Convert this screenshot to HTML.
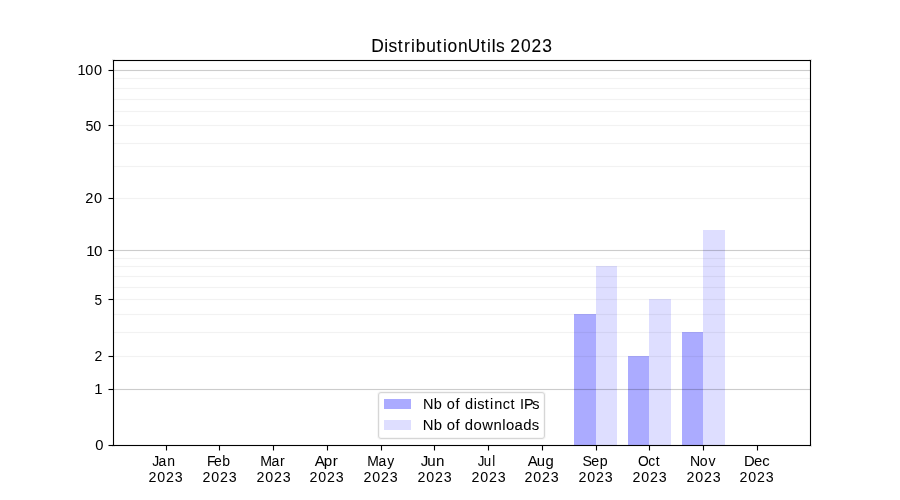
<!DOCTYPE html>
<html><head><meta charset="utf-8"><title>DistributionUtils 2023</title>
<style>
html,body{margin:0;padding:0;background:#fff;}
body{width:900px;height:500px;position:relative;overflow:hidden;font-family:"Liberation Sans",sans-serif;}
#c{position:absolute;left:0;top:0;width:900px;height:500px;}
#c div{position:absolute;}
.gm{left:113px;width:697px;height:1px;background:rgba(0,0,0,0.2);}
.gma{left:113px;width:697px;height:1px;background:rgba(0,0,0,0.012);}
.gn{left:113px;width:697px;height:1px;background:rgba(0,0,0,0.05);box-shadow:0 -1px 0 0 rgba(0,0,0,0.004),0 1px 0 0 rgba(0,0,0,0.004);}
.k{background:#000;}
.ka{background:rgba(0,0,0,0.055);}
.kh{background:rgba(0,0,0,0.488);}
.kq{background:rgba(0,0,0,0.0275);}
svg{position:absolute;left:0;top:0;will-change:transform;}
text{font-family:"Liberation Sans",sans-serif;fill:#000;stroke:#000;stroke-width:0.03px;}
#title{stroke-width:0.1px;}
#leg1,#leg2{stroke-width:0.05px;}
</style></head><body>
<div id="c">
<div class="bar" style="left:574px;top:314px;width:22px;height:131px;background:rgb(171,171,255)"></div>
<div class="bar" style="left:596px;top:266px;width:21px;height:179px;background:rgb(222,222,255)"></div>
<div class="bar" style="left:628px;top:356px;width:21px;height:89px;background:rgb(171,171,255)"></div>
<div class="bar" style="left:649px;top:299px;width:22px;height:146px;background:rgb(222,222,255)"></div>
<div class="bar" style="left:682px;top:332px;width:21px;height:113px;background:rgb(171,171,255)"></div>
<div class="bar" style="left:703px;top:230px;width:22px;height:215px;background:rgb(222,222,255)"></div>
<div class="gn" style="top:356px"></div>
<div class="gn" style="top:332px"></div>
<div class="gn" style="top:314px"></div>
<div class="gn" style="top:299px"></div>
<div class="gn" style="top:287px"></div>
<div class="gn" style="top:276px"></div>
<div class="gn" style="top:266px"></div>
<div class="gn" style="top:258px"></div>
<div class="gn" style="top:198px"></div>
<div class="gn" style="top:166px"></div>
<div class="gn" style="top:143px"></div>
<div class="gn" style="top:125px"></div>
<div class="gn" style="top:111px"></div>
<div class="gn" style="top:99px"></div>
<div class="gn" style="top:88px"></div>
<div class="gn" style="top:78px"></div>
<div class="gma" style="top:388px"></div><div class="gm" style="top:389px"></div><div class="gma" style="top:390px"></div>
<div class="gma" style="top:249px"></div><div class="gm" style="top:250px"></div><div class="gma" style="top:251px"></div>
<div class="gma" style="top:69px"></div><div class="gm" style="top:70px"></div><div class="gma" style="top:71px"></div>
<div class="ka" style="left:112px;top:59px;width:700px;height:3px"></div>
<div class="ka" style="left:112px;top:444px;width:700px;height:3px"></div>
<div class="ka" style="left:112px;top:59px;width:3px;height:388px"></div>
<div class="ka" style="left:809px;top:59px;width:3px;height:388px"></div>
<div class="k" style="left:113px;top:60px;width:698px;height:1px"></div>
<div class="k" style="left:113px;top:445px;width:698px;height:1px"></div>
<div class="k" style="left:113px;top:60px;width:1px;height:386px"></div>
<div class="k" style="left:810px;top:60px;width:1px;height:386px"></div>
<div class="kq" style="left:108px;top:444px;width:1px;height:3px"></div><div class="ka" style="left:109px;top:444px;width:4px;height:3px"></div><div class="kh" style="left:108px;top:445px;width:1px;height:1px"></div><div class="k" style="left:109px;top:445px;width:4px;height:1px"></div>
<div class="kq" style="left:108px;top:388px;width:1px;height:3px"></div><div class="ka" style="left:109px;top:388px;width:4px;height:3px"></div><div class="kh" style="left:108px;top:389px;width:1px;height:1px"></div><div class="k" style="left:109px;top:389px;width:4px;height:1px"></div>
<div class="kq" style="left:108px;top:355px;width:1px;height:3px"></div><div class="ka" style="left:109px;top:355px;width:4px;height:3px"></div><div class="kh" style="left:108px;top:356px;width:1px;height:1px"></div><div class="k" style="left:109px;top:356px;width:4px;height:1px"></div>
<div class="kq" style="left:108px;top:298px;width:1px;height:3px"></div><div class="ka" style="left:109px;top:298px;width:4px;height:3px"></div><div class="kh" style="left:108px;top:299px;width:1px;height:1px"></div><div class="k" style="left:109px;top:299px;width:4px;height:1px"></div>
<div class="kq" style="left:108px;top:249px;width:1px;height:3px"></div><div class="ka" style="left:109px;top:249px;width:4px;height:3px"></div><div class="kh" style="left:108px;top:250px;width:1px;height:1px"></div><div class="k" style="left:109px;top:250px;width:4px;height:1px"></div>
<div class="kq" style="left:108px;top:197px;width:1px;height:3px"></div><div class="ka" style="left:109px;top:197px;width:4px;height:3px"></div><div class="kh" style="left:108px;top:198px;width:1px;height:1px"></div><div class="k" style="left:109px;top:198px;width:4px;height:1px"></div>
<div class="kq" style="left:108px;top:124px;width:1px;height:3px"></div><div class="ka" style="left:109px;top:124px;width:4px;height:3px"></div><div class="kh" style="left:108px;top:125px;width:1px;height:1px"></div><div class="k" style="left:109px;top:125px;width:4px;height:1px"></div>
<div class="kq" style="left:108px;top:69px;width:1px;height:3px"></div><div class="ka" style="left:109px;top:69px;width:4px;height:3px"></div><div class="kh" style="left:108px;top:70px;width:1px;height:1px"></div><div class="k" style="left:109px;top:70px;width:4px;height:1px"></div>
<div class="ka" style="left:165px;top:446px;width:3px;height:4px"></div><div class="kq" style="left:165px;top:450px;width:3px;height:1px"></div><div class="k" style="left:166px;top:446px;width:1px;height:4px"></div><div class="kh" style="left:166px;top:450px;width:1px;height:1px"></div>
<div class="ka" style="left:218px;top:446px;width:3px;height:4px"></div><div class="kq" style="left:218px;top:450px;width:3px;height:1px"></div><div class="k" style="left:219px;top:446px;width:1px;height:4px"></div><div class="kh" style="left:219px;top:450px;width:1px;height:1px"></div>
<div class="ka" style="left:272px;top:446px;width:3px;height:4px"></div><div class="kq" style="left:272px;top:450px;width:3px;height:1px"></div><div class="k" style="left:273px;top:446px;width:1px;height:4px"></div><div class="kh" style="left:273px;top:450px;width:1px;height:1px"></div>
<div class="ka" style="left:326px;top:446px;width:3px;height:4px"></div><div class="kq" style="left:326px;top:450px;width:3px;height:1px"></div><div class="k" style="left:327px;top:446px;width:1px;height:4px"></div><div class="kh" style="left:327px;top:450px;width:1px;height:1px"></div>
<div class="ka" style="left:380px;top:446px;width:3px;height:4px"></div><div class="kq" style="left:380px;top:450px;width:3px;height:1px"></div><div class="k" style="left:381px;top:446px;width:1px;height:4px"></div><div class="kh" style="left:381px;top:450px;width:1px;height:1px"></div>
<div class="ka" style="left:433px;top:446px;width:3px;height:4px"></div><div class="kq" style="left:433px;top:450px;width:3px;height:1px"></div><div class="k" style="left:434px;top:446px;width:1px;height:4px"></div><div class="kh" style="left:434px;top:450px;width:1px;height:1px"></div>
<div class="ka" style="left:487px;top:446px;width:3px;height:4px"></div><div class="kq" style="left:487px;top:450px;width:3px;height:1px"></div><div class="k" style="left:488px;top:446px;width:1px;height:4px"></div><div class="kh" style="left:488px;top:450px;width:1px;height:1px"></div>
<div class="ka" style="left:541px;top:446px;width:3px;height:4px"></div><div class="kq" style="left:541px;top:450px;width:3px;height:1px"></div><div class="k" style="left:542px;top:446px;width:1px;height:4px"></div><div class="kh" style="left:542px;top:450px;width:1px;height:1px"></div>
<div class="ka" style="left:595px;top:446px;width:3px;height:4px"></div><div class="kq" style="left:595px;top:450px;width:3px;height:1px"></div><div class="k" style="left:596px;top:446px;width:1px;height:4px"></div><div class="kh" style="left:596px;top:450px;width:1px;height:1px"></div>
<div class="ka" style="left:648px;top:446px;width:3px;height:4px"></div><div class="kq" style="left:648px;top:450px;width:3px;height:1px"></div><div class="k" style="left:649px;top:446px;width:1px;height:4px"></div><div class="kh" style="left:649px;top:450px;width:1px;height:1px"></div>
<div class="ka" style="left:702px;top:446px;width:3px;height:4px"></div><div class="kq" style="left:702px;top:450px;width:3px;height:1px"></div><div class="k" style="left:703px;top:446px;width:1px;height:4px"></div><div class="kh" style="left:703px;top:450px;width:1px;height:1px"></div>
<div class="ka" style="left:756px;top:446px;width:3px;height:4px"></div><div class="kq" style="left:756px;top:450px;width:3px;height:1px"></div><div class="k" style="left:757px;top:446px;width:1px;height:4px"></div><div class="kh" style="left:757px;top:450px;width:1px;height:1px"></div>
<div style="left:378px;top:392px;width:165px;height:45px;border:1px solid rgb(214,214,214);border-radius:3px;background:#fff;box-shadow:0 0 0 1px rgb(247,247,247),inset 0 0 0 1px rgb(247,247,247)"></div>
<div style="left:384px;top:399px;width:27px;height:10px;background:rgb(171,171,255)"></div>
<div style="left:384px;top:420px;width:27px;height:10px;background:rgb(222,222,255)"></div>
</div>
<svg width="900" height="500" viewBox="0 0 900 500">
<text id="title" transform="scale(0.9699 1)" x="382.74 396.18 400.65 410.04 416.55 423.64 428.57 439.56 450.06 456.87 461.50 472.21 482.39 495.70 502.25 507.00 511.48 520.30 525.99 537.13 548.06 559.10" y="51.7" font-size="17.95">DistributionUtils 2023</text>
<text id="y0" transform="scale(0.996 1)" x="95.68" y="450.3" font-size="14.8">0</text>
<text id="y1" transform="scale(0.9912 1)" x="95.19" y="394.3" font-size="15.1">1</text>
<text id="y2" transform="scale(0.96 1)" x="98.56" y="361.3" font-size="14.6">2</text>
<text id="y5" transform="scale(0.9 1)" x="104.90" y="304.7" font-size="15.1">5</text>
<text id="y10" transform="scale(1.0148 1)" x="84.95 92.74" y="255.7" font-size="14.9">10</text>
<text id="y20" transform="scale(0.9784 1)" x="87.19 96.15" y="203.3" font-size="14.9">20</text>
<text id="y50" transform="scale(0.9681 1)" x="88.32 96.46" y="130.7" font-size="14.8">50</text>
<text id="y100" transform="scale(0.9721 1)" x="79.61 87.74 96.82" y="75.3" font-size="14.9">100</text>
<text id="xJan" transform="scale(0.9086 1)" x="167.68 174.33 184.02" y="466.3" font-size="15.4">Jan</text>
<text id="xJan_2023" transform="scale(0.9683 1)" x="153.26 162.31 171.50 180.56" y="482.4" font-size="14.7">2023</text>
<text id="xFeb" transform="scale(0.9397 1)" x="220.27 227.65 236.42" y="466.4" font-size="14.9">Feb</text>
<text id="xFeb_2023" transform="scale(0.9683 1)" x="209.03 218.08 227.27 236.33" y="482.2" font-size="14.7">2023</text>
<text id="xMar" transform="scale(0.9558 1)" x="272.22 284.18 293.04" y="466.2" font-size="14.8">Mar</text>
<text id="xMar_2023" transform="scale(0.9683 1)" x="264.80 273.85 283.03 292.10" y="482.2" font-size="14.7">2023</text>
<text id="xApr" transform="scale(0.9844 1)" x="319.67 328.89 338.15" y="466.2" font-size="15.4">Apr</text>
<text id="xApr_2023" transform="scale(0.9683 1)" x="319.54 328.71 337.77 346.84" y="481.9" font-size="14.7">2023</text>
<text id="xMay" transform="scale(0.9352 1)" x="392.62 404.81 414.17" y="466.4" font-size="14.9">May</text>
<text id="xMay_2023" transform="scale(0.9683 1)" x="375.30 384.35 393.54 402.60" y="481.6" font-size="14.7">2023</text>
<text id="xJun" transform="scale(0.9834 1)" x="427.78 434.36 443.49" y="466.3" font-size="15.4">Jun</text>
<text id="xJun_2023" transform="scale(0.9683 1)" x="431.07 440.12 449.30 458.37" y="482.2" font-size="14.7">2023</text>
<text id="xJul" transform="scale(0.8853 1)" x="539.76 546.33 556.15" y="466.2" font-size="15.0">Jul</text>
<text id="xJul_2023" transform="scale(0.9683 1)" x="486.84 495.89 505.07 514.14" y="482.2" font-size="14.7">2023</text>
<text id="xAug" transform="scale(1.0122 1)" x="521.32 530.40 539.04" y="466.4" font-size="14.7">Aug</text>
<text id="xAug_2023" transform="scale(0.9683 1)" x="541.57 550.62 559.81 568.87" y="481.8" font-size="14.7">2023</text>
<text id="xSep" transform="scale(0.9541 1)" x="610.45 619.79 628.68" y="466.3" font-size="14.9">Sep</text>
<text id="xSep_2023" transform="scale(0.9683 1)" x="597.47 606.39 615.58 624.64" y="481.8" font-size="14.7">2023</text>
<text id="xOct" transform="scale(0.9597 1)" x="664.70 675.41 683.31" y="466.2" font-size="14.4">Oct</text>
<text id="xOct_2023" transform="scale(0.9683 1)" x="653.11 662.16 671.34 680.41" y="482.2" font-size="14.7">2023</text>
<text id="xNov" transform="scale(0.9733 1)" x="708.82 718.94 727.92" y="465.8" font-size="14.5">Nov</text>
<text id="xNov_2023" transform="scale(0.9683 1)" x="708.88 717.93 727.11 736.18" y="482.2" font-size="14.7">2023</text>
<text id="xDec" transform="scale(0.9825 1)" x="757.18 767.32 775.78" y="466.4" font-size="15.1">Dec</text>
<text id="xDec_2023" transform="scale(0.9683 1)" x="763.61 772.66 781.85 790.91" y="482.4" font-size="14.7">2023</text>
<text id="leg1" transform="scale(0.9995 1)" x="423.11 434.00 442.34 446.98 455.86 460.14 465.34 473.94 477.56 485.12 490.22 494.40 503.08 510.86 515.62 520.32 524.22 532.59" y="408.8" font-size="14.5">Nb of distinct IPs</text>
<text id="leg2" transform="scale(1.0067 1)" x="419.88 430.98 439.38 443.87 452.49 457.05 461.61 470.28 479.15 490.17 498.89 502.55 510.96 519.75 528.31" y="429.8" font-size="14.8">Nb of downloads</text>
</svg>
</body></html>
